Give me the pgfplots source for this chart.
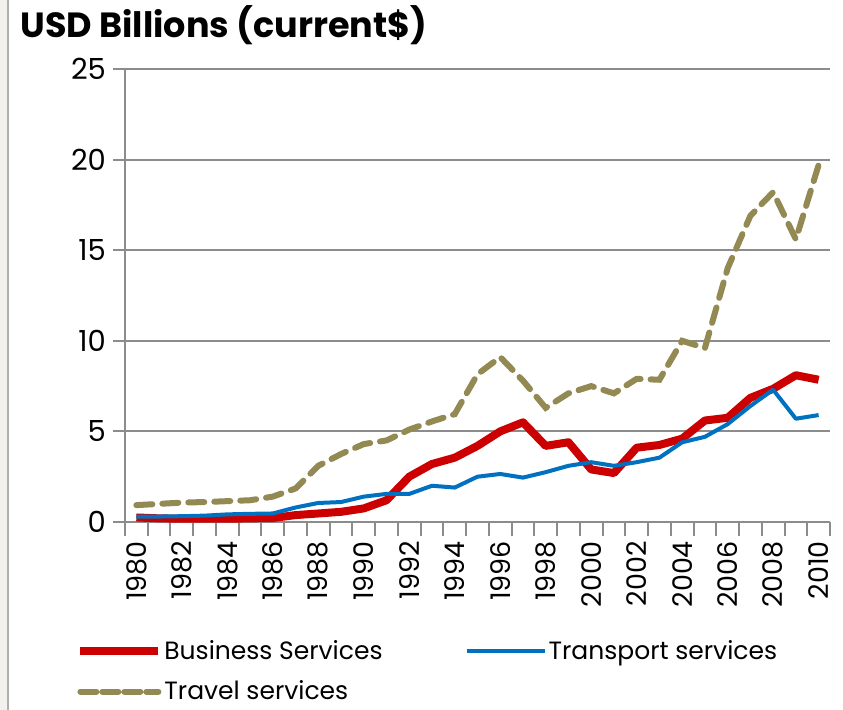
\documentclass[border=0pt]{standalone}
\usepackage{fontspec}
\setmainfont{Poppins}
\usepackage{pgfplots}
\pgfplotsset{compat=1.18}
\definecolor{bizred}{RGB}{204,0,0}
\definecolor{transblue}{RGB}{0,112,192}
\definecolor{travolive}{RGB}{147,137,83}
\definecolor{axgray}{RGB}{140,140,140}
\definecolor{framebg}{RGB}{243,241,237}
\definecolor{frameline}{RGB}{170,178,170}

\pgfplotstableread{
year business transport travel
1980 0.25 0.30 0.93
1981 0.20 0.30 1.00
1982 0.18 0.32 1.07
1983 0.18 0.35 1.10
1984 0.18 0.42 1.15
1985 0.20 0.45 1.20
1986 0.22 0.47 1.40
1987 0.38 0.80 1.85
1988 0.47 1.05 3.10
1989 0.56 1.10 3.75
1990 0.75 1.40 4.30
1991 1.20 1.55 4.50
1992 2.50 1.55 5.10
1993 3.20 2.00 5.55
1994 3.55 1.90 5.95
1995 4.20 2.50 8.15
1996 5.00 2.65 9.10
1997 5.50 2.45 7.80
1998 4.20 2.75 6.30
1999 4.40 3.10 7.10
2000 2.90 3.30 7.50
2001 2.70 3.10 7.10
2002 4.10 3.30 7.90
2003 4.25 3.55 7.85
2004 4.60 4.40 10.00
2005 5.60 4.70 9.60
2006 5.75 5.40 14.00
2007 6.85 6.40 16.90
2008 7.35 7.30 18.20
2009 8.10 5.70 15.60
2010 7.85 5.90 19.70
}\services

\begin{document}
\begin{tikzpicture}
\begin{axis}[
    scale only axis,
    width=352.5pt,
    height=226.5pt,
    xmin=1979.5, xmax=2010.5,
    ymin=0, ymax=25,
    axis x line=bottom,
    axis y line=left,
    axis line style={axgray, line width=1pt, -},
    xtick={1980,1982,...,2010},
    minor xtick={1979.5,1980.5,...,2010.5},
    major x tick style={draw=none},
    minor x tick style={axgray, line width=1pt},
    minor tick length=7pt,
    ytick={0,5,...,25},
    y tick style={axgray, line width=1pt},
    major tick length=6pt,
    tick align=outside,
    ymajorgrids=true,
    grid style={axgray, line width=1pt},
    /pgf/number format/assume math mode=true,
    x tick label style={rotate=90, anchor=east, font=\fontsize{13.5}{14}\selectfont,
        /pgf/number format/1000 sep={}},
    y tick label style={font=\fontsize{14.5}{15}\selectfont},
    legend columns=2,
    legend style={
        at={(-0.078,-0.243)}, anchor=north west,
        draw=none, fill=none,
        font=\fontsize{12.5}{13}\selectfont,
        /tikz/every even column/.append style={column sep=40pt},
        row sep=5pt,
        nodes={inner xsep=1pt},
    },
    legend cell align=left,
    legend image code/.code={\draw[#1] (0pt,0pt) -- (39pt,0pt);},
    clip=false,
]
\addplot[travolive, line width=3pt, dash pattern=on 8pt off 5pt, line cap=round, forget plot]
    table[x=year, y=travel] {\services};
\addplot[bizred, line width=4pt, line join=round]
    table[x=year, y=business] {\services};
\addlegendentry{Business Services}
\addplot[transblue, line width=2pt, line join=round]
    table[x=year, y=transport] {\services};
\addlegendentry{Transport services}
\addlegendimage{travolive, line width=3pt, dash pattern=on 8pt off 3pt, line cap=round}
\addlegendentry{Travel services}
\node[anchor=west, font=\bfseries\fontsize{17.5}{19}\selectfont, inner sep=0pt]
    at (axis description cs:-0.149,1.097) {USD Billions (current\$)};
\end{axis}
\fill[framebg] (current axis.south west) ++(-62.5pt,-94pt) rectangle ++(3.6pt,355pt);
\draw[frameline, line width=1pt] (current axis.south west) ++(-58.4pt,-94pt) -- ++(0,355pt);
\pgfresetboundingbox
\path (current axis.south west) ++(-62.5pt,-94pt) rectangle ++(421.5pt,355pt);
\end{tikzpicture}
\end{document}
